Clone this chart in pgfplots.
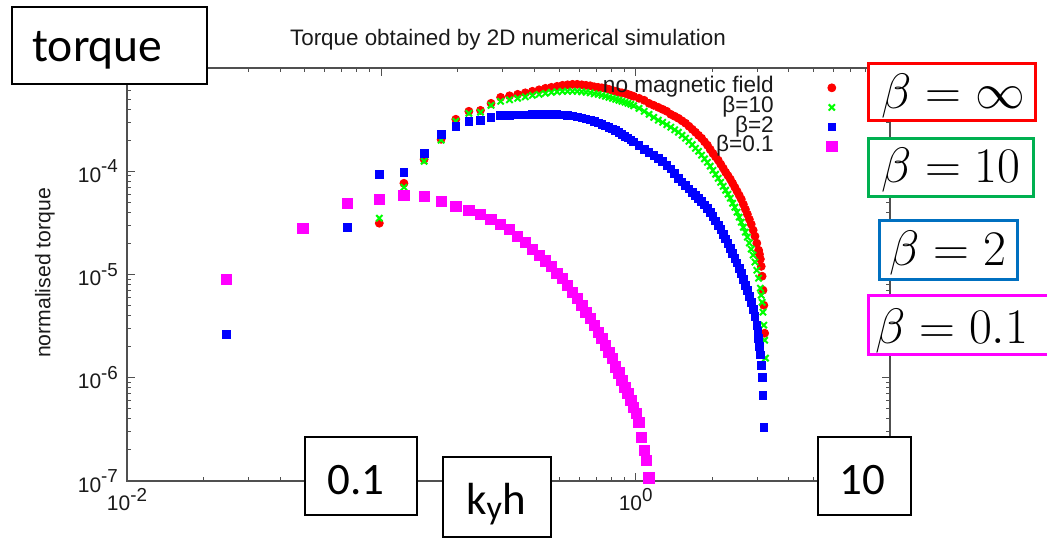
\documentclass[border=0pt]{standalone}
\usepackage{pgfplots}
\pgfplotsset{compat=1.18}
\usepackage{fontspec}
\setmainfont{Liberation Sans}
\newfontfamily\calibri{Carlito}
\definecolor{axgray}{HTML}{505050}
\definecolor{txtgray}{HTML}{1A1A1A}
\definecolor{boxgreen}{HTML}{00B050}
\definecolor{boxblue}{HTML}{0070C0}
\definecolor{pred}{HTML}{FF0000}
\definecolor{pgreen}{HTML}{00FF00}
\definecolor{pblue}{HTML}{0000FF}
\definecolor{pmag}{HTML}{FF00FF}
\newcommand\tl[1]{10\raisebox{0.45em}{\fontsize{9.4}{10}\selectfont #1}}
\begin{document}
\begin{tikzpicture}
\useasboundingbox (0,0) rectangle (523.5pt,-269.5pt);
\begin{axis}[
  at={(63.5pt,-240.5pt)}, anchor=south west,
  scale only axis, width=381.5pt, height=206.5pt,
  xmode=log, ymode=log,
  xmin=0.01, xmax=10, ymin=1e-7, ymax=1e-3,
  xtick={0.01,0.1,1,10},
  xticklabels={\tl{-2},,\tl{0},},
  ytick={1e-7,1e-6,1e-5,1e-4,1e-3},
  yticklabels={\tl{-7},\tl{-6},\tl{-5},\tl{-4},},
  tick label style={font=\fontsize{10.5}{11}\selectfont, text=txtgray},
  yticklabel style={xshift=-1pt},
  axis line style={axgray, line width=0.6pt},
  every tick/.style={axgray, line width=0.5pt},
  major tick length=4pt, minor tick length=2.2pt,
  tick align=inside,
  clip=false,
  legend plot pos=right,
  legend cell align=right,
  legend style={draw=none, fill=none, inner sep=0pt, outer sep=0pt,
    at={(rel axis cs:1,1)}, anchor=north east, xshift=-26.5pt, yshift=-5pt,
    font=\fontsize{11.3}{12}\selectfont, text=txtgray,
    nodes={inner sep=0.4pt, text height=7pt, text depth=2pt},
    /tikz/every odd column/.append style={column sep=26pt}},
]
\addplot[only marks, mark=*, mark size=2.0pt, color=pred] table {
0.09818 3.14e-5
0.1227 7.65e-5
0.1473 1.307e-4
0.1718 2.04e-4
0.1963 3.19e-4
0.2209 3.81e-4
0.2454 3.89e-4
0.2700 4.55e-4
0.2945 5.20e-4
0.3191 5.38e-4
0.3436 5.56e-4
0.3682 5.75e-4
0.3927 5.95e-4
0.4172 6.15e-4
0.4418 6.36e-4
0.4663 6.50e-4
0.4909 6.65e-4
0.5154 6.80e-4
0.5400 6.88e-4
0.5645 6.95e-4
0.5890 6.95e-4
0.6136 6.88e-4
0.6381 6.80e-4
0.6627 6.73e-4
0.6872 6.58e-4
0.7118 6.50e-4
0.7363 6.43e-4
0.7609 6.36e-4
0.7854 6.22e-4
0.8100 6.08e-4
0.8345 5.95e-4
0.8590 5.82e-4
0.8836 5.75e-4
0.9081 5.69e-4
0.9327 5.56e-4
0.9572 5.44e-4
0.9818 5.32e-4
1.0308 5.09e-4
1.0799 4.87e-4
1.1290 4.55e-4
1.1781 4.35e-4
1.2272 4.16e-4
1.2763 3.98e-4
1.3254 3.81e-4
1.3745 3.56e-4
1.4236 3.41e-4
1.4726 3.26e-4
1.5217 3.08e-4
1.5708 2.92e-4
1.6199 2.73e-4
1.6690 2.55e-4
1.7181 2.39e-4
1.7672 2.23e-4
1.8163 2.09e-4
1.8653 1.93e-4
1.9144 1.79e-4
1.9635 1.63e-4
2.0126 1.49e-4
2.0617 1.38e-4
2.1108 1.28e-4
2.1599 1.17e-4
2.2090 1.07e-4
2.2580 9.78e-5
2.3071 9.05e-5
2.3562 8.37e-5
2.4053 7.65e-5
2.4544 7.00e-5
2.5035 6.40e-5
2.5526 5.86e-5
2.6017 5.36e-5
2.6507 4.79e-5
2.6998 4.29e-5
2.7489 3.84e-5
2.7980 3.43e-5
2.8471 3.07e-5
2.8962 2.69e-5
2.9453 2.35e-5
2.9944 2.01e-5
3.0434 1.72e-5
3.0680 1.57e-5
3.0925 1.41e-5
3.1171 1.20e-5
3.1416 9.63e-6
3.1662 7.05e-6
3.1907 5.04e-6
3.2152 2.70e-6
};
\addlegendentry{no magnetic field}
\addplot[only marks, mark=x, mark size=2.2pt, color=pgreen, mark options={line width=1pt}] table {
0.09818 3.51e-5
0.1227 7.00e-5
0.1473 1.25e-4
0.1718 2.00e-4
0.1963 3.05e-4
0.2209 3.64e-4
0.2454 3.73e-4
0.2700 4.35e-4
0.2945 4.76e-4
0.3191 4.92e-4
0.3436 5.09e-4
0.3682 5.26e-4
0.3927 5.44e-4
0.4172 5.56e-4
0.4418 5.69e-4
0.4663 5.82e-4
0.4909 5.88e-4
0.5154 5.95e-4
0.5400 5.95e-4
0.5645 5.95e-4
0.5890 5.95e-4
0.6136 5.88e-4
0.6381 5.82e-4
0.6627 5.75e-4
0.6872 5.63e-4
0.7118 5.56e-4
0.7363 5.44e-4
0.7609 5.32e-4
0.7854 5.20e-4
0.8100 5.09e-4
0.8345 4.98e-4
0.8590 4.87e-4
0.8836 4.76e-4
0.9081 4.66e-4
0.9327 4.55e-4
0.9572 4.45e-4
0.9818 4.31e-4
1.0308 4.07e-4
1.0799 3.81e-4
1.1290 3.56e-4
1.1781 3.33e-4
1.2272 3.12e-4
1.2763 2.98e-4
1.3254 2.82e-4
1.3745 2.67e-4
1.4236 2.52e-4
1.4726 2.39e-4
1.5217 2.23e-4
1.5708 2.09e-4
1.6199 1.95e-4
1.6690 1.81e-4
1.7181 1.67e-4
1.7672 1.56e-4
1.8163 1.43e-4
1.8653 1.32e-4
1.9144 1.22e-4
1.9635 1.12e-4
2.0126 1.02e-4
2.0617 9.35e-5
2.1108 8.56e-5
2.1599 7.82e-5
2.2090 7.16e-5
2.2580 6.55e-5
2.3071 5.99e-5
2.3562 5.48e-5
2.4053 4.90e-5
2.4544 4.48e-5
2.5035 4.01e-5
2.5526 3.59e-5
2.6017 3.21e-5
2.6507 2.87e-5
2.6998 2.57e-5
2.7489 2.30e-5
2.7980 2.02e-5
2.8471 1.76e-5
2.8962 1.54e-5
2.9453 1.32e-5
2.9944 1.10e-5
3.0434 9.21e-6
3.0925 7.37e-6
3.1171 6.31e-6
3.1416 5.39e-6
3.1662 4.32e-6
3.1907 3.23e-6
3.2152 2.31e-6
3.2398 1.55e-6
};
\addlegendentry{β=10}
\addplot[only marks, mark=square*, mark size=1.9pt, color=pblue] table {
0.02454 2.64e-6
0.07363 2.87e-5
0.09818 9.35e-5
0.1227 9.78e-5
0.1473 1.49e-4
0.1718 2.28e-4
0.1963 2.73e-4
0.2209 3.05e-4
0.2454 3.12e-4
0.2700 3.33e-4
0.2945 3.48e-4
0.3191 3.48e-4
0.3436 3.52e-4
0.3682 3.52e-4
0.3927 3.56e-4
0.4172 3.56e-4
0.4418 3.56e-4
0.4663 3.56e-4
0.4909 3.56e-4
0.5154 3.52e-4
0.5400 3.48e-4
0.5645 3.45e-4
0.5890 3.37e-4
0.6136 3.29e-4
0.6381 3.22e-4
0.6627 3.15e-4
0.6872 3.05e-4
0.7118 2.95e-4
0.7363 2.85e-4
0.7609 2.76e-4
0.7854 2.67e-4
0.8100 2.58e-4
0.8345 2.49e-4
0.8590 2.39e-4
0.8836 2.28e-4
0.9081 2.18e-4
0.9327 2.11e-4
0.9572 2.02e-4
0.9818 1.93e-4
1.0308 1.79e-4
1.0799 1.63e-4
1.1290 1.53e-4
1.1781 1.43e-4
1.2272 1.34e-4
1.2763 1.25e-4
1.3254 1.14e-4
1.3745 1.05e-4
1.4236 9.56e-5
1.4726 8.56e-5
1.5217 7.91e-5
1.5708 7.32e-5
1.6199 6.77e-5
1.6690 6.26e-5
1.7181 5.86e-5
1.7672 5.48e-5
1.8163 5.12e-5
1.8653 4.74e-5
1.9144 4.38e-5
1.9635 4.01e-5
2.0126 3.67e-5
2.0617 3.32e-5
2.1108 3.00e-5
2.1599 2.72e-5
2.2090 2.46e-5
2.2580 2.22e-5
2.3071 2.01e-5
2.3562 1.80e-5
2.4053 1.61e-5
2.4544 1.44e-5
2.5035 1.29e-5
2.5526 1.15e-5
2.6017 1.03e-5
2.6507 9.01e-6
2.6998 7.88e-6
2.7489 7.05e-6
2.7980 6.17e-6
2.8471 5.39e-6
2.8962 4.61e-6
2.9453 3.95e-6
2.9944 3.23e-6
3.0189 2.83e-6
3.0434 2.42e-6
3.0680 2.02e-6
3.0925 1.66e-6
3.1171 1.32e-6
3.1416 1.01e-6
3.1662 6.79e-7
3.1907 3.32e-7
};
\addlegendentry{β=2}
\addplot[only marks, mark=square*, mark size=2.6pt, color=pmag] table {
0.02454 9.01e-6
0.04909 2.81e-5
0.07363 4.90e-5
0.09818 5.36e-5
0.1227 5.86e-5
0.1473 5.73e-5
0.1718 5.12e-5
0.1963 4.58e-5
0.2209 4.19e-5
0.2454 3.84e-5
0.2700 3.43e-5
0.2945 3.07e-5
0.3191 2.75e-5
0.3436 2.35e-5
0.3682 2.05e-5
0.3927 1.76e-5
0.4172 1.54e-5
0.4418 1.35e-5
0.4663 1.20e-5
0.4909 1.03e-5
0.5154 9.21e-6
0.5400 7.88e-6
0.5645 6.74e-6
0.5890 5.90e-6
0.6136 5.04e-6
0.6381 4.32e-6
0.6627 3.78e-6
0.6872 3.23e-6
0.7118 2.76e-6
0.7363 2.42e-6
0.7609 2.07e-6
0.7854 1.77e-6
0.8100 1.55e-6
0.8345 1.27e-6
0.8590 1.11e-6
0.8836 9.48e-7
0.9081 8.11e-7
0.9327 7.10e-7
0.9572 6.07e-7
0.9818 5.19e-7
1.0063 4.54e-7
1.0308 3.72e-7
1.0554 2.66e-7
1.0799 1.99e-7
1.1045 1.59e-7
1.1290 1.07e-7
};
\addlegendentry{β=0.1}
\end{axis}
\begin{scope}[x=0.5pt, y=-0.5pt]
  % title and y label
  \node[font=\fontsize{11.2}{13}\selectfont, text=txtgray] at (508,40) {Torque obtained by 2D numerical simulation};
  \node[font=\fontsize{10.6}{12}\selectfont, text=txtgray, rotate=90] at (45,273) {normalised torque};
  % overlay boxes
  \draw[line width=1.3pt, fill=white] (12,7) rectangle (207,84);
  \node[font=\calibri\fontsize{23.8}{26}\selectfont, anchor=base west, inner sep=0pt] at (32,62) {torque};
  \draw[line width=1.3pt, fill=white] (305,437) rectangle (417,515);
  \node[font=\calibri\fontsize{22.5}{26}\selectfont, anchor=base, inner sep=0pt] at (356,494) {0.1};
  \draw[line width=1.3pt, fill=white] (443,457) rectangle (551,537);
  \node[font=\calibri\fontsize{22.5}{26}\selectfont, anchor=base, inner sep=0pt] at (496,514) {k\raisebox{-0.12em}{\fontsize{17}{20}\selectfont y}h};
  \draw[line width=1.3pt, fill=white] (818,437) rectangle (911,515);
  \node[font=\calibri\fontsize{22.5}{26}\selectfont, anchor=base, inner sep=0pt] at (862,494) {10};
  \draw[line width=1.5pt, draw=red, fill=white] (868,64) rectangle (1035,121);
  \node[font=\fontsize{27.5}{30}\selectfont, anchor=base, inner sep=0pt] at (953,109) {$\beta=\infty$};
  \draw[line width=1.5pt, draw=boxgreen, fill=white] (868,139) rectangle (1033,197);
  \node[font=\fontsize{27.5}{30}\selectfont, anchor=base, inner sep=0pt] at (951,183) {$\beta=10$};
  \draw[line width=1.5pt, draw=boxblue, fill=white] (879,221) rectangle (1017,280);
  \node[font=\fontsize{27.5}{30}\selectfont, anchor=base, inner sep=0pt] at (948,265) {$\beta=2$};
  \draw[line width=1.5pt, draw=pmag, fill=white] (868,295) rectangle (1070,354);
  \node[font=\fontsize{27.5}{30}\selectfont, anchor=base west, inner sep=0pt] at (875,343) {$\beta=0.1$};
\end{scope}
\end{tikzpicture}
\end{document}
